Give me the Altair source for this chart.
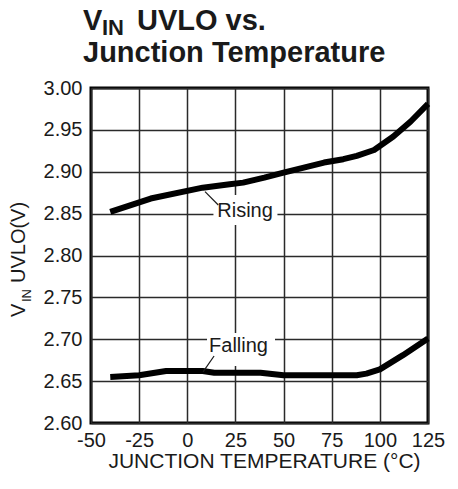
import altair as alt
import pandas as pd

# ---- data ----
rising_temp = [-40, -19, 8, 22, 29, 40, 50, 71, 81, 88, 97, 107, 116, 125]
rising_vin = [2.852, 2.868, 2.881, 2.885, 2.887, 2.893, 2.899, 2.911, 2.915, 2.919, 2.926, 2.942, 2.960, 2.981]
falling_temp = [-40, -25, -11, 8, 14, 38, 50, 88, 93, 100, 112, 125]
falling_vin = [2.655, 2.657, 2.662, 2.662, 2.660, 2.660, 2.657, 2.657, 2.659, 2.664, 2.681, 2.701]

x_ticks = [-50, -25, 0, 25, 50, 75, 100, 125]
y_ticks = [2.60, 2.65, 2.70, 2.75, 2.80, 2.85, 2.90, 2.95, 3.00]

label_text = ["Rising", "Falling"]
label_temp = [30.0, 26.6]
label_vin = [2.846, 2.6848]
box_temp = [30.2, 27.9]
box_vin = [2.8543, 2.6878]
leader_temp = [9.2, 13.9]
leader_vin = [2.8762, 2.680]
leader_temp2 = [16.1, 8.2]
leader_vin2 = [2.8603, 2.661]

FONT = "Liberation Sans"
INK = "#1a1a1a"

rows = []
for t, v in zip(rising_temp, rising_vin):
    rows.append({"temp": t, "vin": v, "series": "Rising"})
for t, v in zip(falling_temp, falling_vin):
    rows.append({"temp": t, "vin": v, "series": "Falling"})
curves = pd.DataFrame(rows)

labels = pd.DataFrame({"text": label_text, "temp": label_temp, "vin": label_vin})
boxes = pd.DataFrame({"temp": box_temp, "vin": box_vin, "text": label_text})
leaders = pd.DataFrame({"temp": leader_temp, "vin": leader_vin,
                        "temp2": leader_temp2, "vin2": leader_vin2})

xscale = alt.Scale(domain=[-50, 125], nice=False, zero=False)
yscale = alt.Scale(domain=[2.6, 3.0], nice=False, zero=False)

xax = alt.Axis(values=x_ticks, ticks=False, domain=False, grid=True,
               labelOverlap=False, labelFlush=False,
               labelExpr="'' + datum.value",
               labelPadding=7, labelFontSize=20, labelFont=FONT, labelColor=INK,
               title="JUNCTION TEMPERATURE (°C)", titleFont=FONT, titleFontSize=21,
               titleFontWeight="normal", titleColor=INK, titleBaseline="alphabetic",
               titleY=44, titleX=173)
yax = alt.Axis(values=y_ticks, format=".2f", ticks=False, domain=False, grid=True,
               labelOverlap=False, labelFlush=False,
               labelPadding=9, labelFontSize=20, labelFont=FONT, labelColor=INK,
               title=None)

base_x = alt.X("temp:Q", scale=xscale, axis=xax)
base_y = alt.Y("vin:Q", scale=yscale, axis=yax)

lines = alt.Chart(curves).mark_line(color="black", strokeWidth=6, strokeJoin="round").encode(
    x=base_x, y=base_y, detail="series:N"
)

box_r = alt.Chart(boxes.iloc[[0]]).mark_point(
    shape="M-1,-0.469H1V0.469H-1Z", size=64 * 64, filled=True, fill="white", opacity=1, strokeWidth=0
).encode(x=alt.X("temp:Q", scale=xscale), y=alt.Y("vin:Q", scale=yscale))
box_f = alt.Chart(boxes.iloc[[1]]).mark_point(
    shape="M-1,-0.485H1V0.485H-1Z", size=68 * 68, filled=True, fill="white", opacity=1, strokeWidth=0
).encode(x=alt.X("temp:Q", scale=xscale), y=alt.Y("vin:Q", scale=yscale))

lead = alt.Chart(leaders).mark_rule(color=INK, strokeWidth=1.2).encode(
    x=alt.X("temp:Q", scale=xscale), y=alt.Y("vin:Q", scale=yscale),
    x2="temp2:Q", y2="vin2:Q"
)

txt = alt.Chart(labels).mark_text(font=FONT, fontSize=20, color=INK, align="center",
                                  baseline="alphabetic").encode(
    x=alt.X("temp:Q", scale=xscale), y=alt.Y("vin:Q", scale=yscale), text="text:N"
)

one = pd.DataFrame({"k": [0]})

def label(text, x, y, size, weight="normal", angle=0):
    kw = dict(font=FONT, fontSize=size, fontWeight=weight, color=INK, align="left",
              baseline="alphabetic")
    if angle:
        kw["angle"] = angle
    return alt.Chart(one).mark_text(text=text, **kw).encode(
        x=alt.value(x), y=alt.value(y)
    )

title_layers = [
    label("V", -8, -58, 29, "bold"),
    label("IN", 11, -53, 22, "bold"),
    label("UVLO vs.", 46, -58, 29, "bold"),
    label("Junction Temperature", -8, -26, 29, "bold"),
    # y-axis title with subscript (rotated)
    label("V", -66, 229, 20, angle=270),
    label("IN", -60, 214, 13, angle=270),
    label("UVLO(V)", -66, 195, 20, angle=270),
]

chart = alt.layer(lines, box_r, box_f, lead, txt, *title_layers).properties(
    width=337, height=335,
    padding={"left": 83, "top": 80, "right": 22, "bottom": 58},
    autosize=alt.AutoSizeParams(type="none"),
).configure_view(
    stroke="black", strokeWidth=3
).configure_axis(
    gridColor="#2a2a2a", gridWidth=1.5, gridOpacity=1
)

chart.save("out.html", embed_options={"renderer": "svg", "actions": False})
